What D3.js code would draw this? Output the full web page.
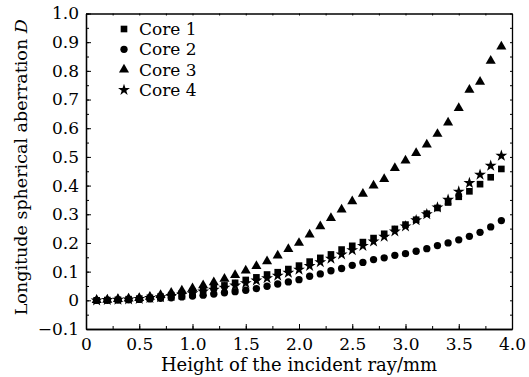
<!DOCTYPE html>
<meta charset="utf-8">
<style>
body { margin: 0; background: #fff; }
svg text { font-family: "DejaVu Serif", serif; fill: #000; }
.axis path, .axis line { stroke: #000; }
</style>
<div id="chart"></div>
<script src="https://d3js.org/d3.v7.min.js"></script>
<script>

var heights = [0.1,0.2,0.3,0.4,0.5,0.6,0.7,0.8,0.9,1.0,1.1,1.2,1.3,1.4,1.5,1.6,1.7,1.8,1.9,2.0,
               2.1,2.2,2.3,2.4,2.5,2.6,2.7,2.8,2.9,3.0,3.1,3.2,3.3,3.4,3.5,3.6,3.7,3.8,3.9];

var core1 = [0.000,0.001,0.002,0.004,0.006,0.009,0.013,0.018,0.024,0.030,0.037,0.044,0.052,0.061,0.071,0.080,0.090,0.098,0.109,0.121,
             0.135,0.148,0.160,0.177,0.190,0.203,0.217,0.232,0.249,0.264,0.281,0.302,0.322,0.341,0.361,0.380,0.405,0.429,0.458];
var core2 = [0.000,0.000,0.001,0.002,0.003,0.005,0.007,0.009,0.012,0.015,0.018,0.022,0.026,0.030,0.035,0.041,0.049,0.057,0.064,0.072,
             0.084,0.092,0.103,0.111,0.122,0.132,0.142,0.148,0.157,0.163,0.171,0.180,0.191,0.200,0.211,0.223,0.237,0.256,0.278];
var core3 = [0.001,0.002,0.004,0.006,0.008,0.012,0.018,0.026,0.034,0.042,0.052,0.063,0.075,0.088,0.104,0.119,0.136,0.156,0.179,0.200,
             0.229,0.258,0.287,0.316,0.345,0.371,0.400,0.423,0.461,0.487,0.513,0.543,0.580,0.620,0.670,0.734,0.762,0.835,0.885];
var core4 = [0.000,0.001,0.002,0.003,0.005,0.008,0.011,0.015,0.020,0.025,0.031,0.037,0.044,0.052,0.060,0.069,0.077,0.086,0.096,0.107,
             0.120,0.133,0.145,0.160,0.175,0.190,0.205,0.222,0.240,0.258,0.279,0.300,0.324,0.351,0.379,0.409,0.438,0.469,0.504];

var seriesNames = ["Core 1", "Core 2", "Core 3", "Core 4"];
var seriesValues = [core1, core2, core3, core4];

var xTicks = [0, 0.5, 1.0, 1.5, 2.0, 2.5, 3.0, 3.5, 4.0];
var yTicks = [-0.1, 0, 0.1, 0.2, 0.3, 0.4, 0.5, 0.6, 0.7, 0.8, 0.9, 1.0];

var width = 529, height = 377;
var margin = {top: 13.5, right: 17, bottom: 48, left: 86};

var svg = d3.select("#chart").append("svg")
    .attr("width", width)
    .attr("height", height);

var x = d3.scaleLinear().domain([0, 4]).range([margin.left, width - margin.right]);
var y = d3.scaleLinear().domain([-0.1, 1.0]).range([height - margin.bottom, margin.top]);

var symbols = [
  d3.symbol().type(d3.symbolSquare).size(44),
  d3.symbol().type(d3.symbolCircle).size(42),
  d3.symbol().type(d3.symbolTriangle).size(44),
  d3.symbol().type(d3.symbolStar).size(44)
];

function fmtX(d) { return d === 0 ? "0" : d3.format(".1f")(d); }
function fmtY(d) { return d === 0 ? "0" : d3.format(".1f")(d).replace("-", "\u2212"); }

var xMinor = d3.range(0, 4.001, 0.25);
var yMinor = d3.range(-0.1, 1.001, 0.05).map(function(d) { return Math.round(d * 100) / 100; });

// bottom axis
svg.append("g").attr("class", "axis")
    .attr("transform", "translate(0," + y(-0.1) + ")")
    .call(d3.axisBottom(x).tickValues(xMinor).tickFormat("").tickSize(-3).tickSizeOuter(0));
svg.append("g").attr("class", "axis")
    .attr("transform", "translate(0," + y(-0.1) + ")")
    .call(d3.axisBottom(x).tickValues(xTicks).tickFormat(fmtX).tickSize(-5).tickSizeOuter(0).tickPadding(9))
    .selectAll("text").style("font-size", "17px");

// left axis
svg.append("g").attr("class", "axis")
    .attr("transform", "translate(" + x(0) + ",0)")
    .call(d3.axisLeft(y).tickValues(yMinor).tickFormat("").tickSize(-3).tickSizeOuter(0));
svg.append("g").attr("class", "axis")
    .attr("transform", "translate(" + x(0) + ",0)")
    .call(d3.axisLeft(y).tickValues(yTicks).tickFormat(fmtY).tickSize(-5).tickSizeOuter(0).tickPadding(7))
    .selectAll("text").style("font-size", "17px");

// top and right frame
svg.append("g").attr("class", "axis")
    .attr("transform", "translate(0," + y(1.0) + ")")
    .call(d3.axisTop(x).tickValues(xMinor).tickFormat("").tickSize(-2).tickSizeOuter(0));
svg.append("g").attr("class", "axis")
    .attr("transform", "translate(" + x(4) + ",0)")
    .call(d3.axisRight(y).tickValues(yMinor).tickFormat("").tickSize(-2).tickSizeOuter(0));

svg.selectAll(".axis path").attr("stroke-width", 1.3);

// markers
seriesValues.forEach(function(vals, i) {
  svg.append("g")
    .selectAll("path")
    .data(vals)
    .enter().append("path")
      .attr("d", symbols[i])
      .attr("fill", "#000")
      .attr("transform", function(d, j) { return "translate(" + x(heights[j]) + "," + y(d) + ")"; });
});

// legend
var legend = svg.append("g").selectAll("g")
    .data(seriesNames)
    .enter().append("g")
      .attr("transform", function(d, i) { return "translate(124," + (29 + i * 20.3) + ")"; });
legend.append("path")
    .attr("d", function(d, i) { return symbols[i](); })
    .attr("fill", "#000");
legend.append("text")
    .attr("x", 15)
    .attr("dy", "0.36em")
    .style("font-size", "17px")
    .text(function(d) { return d; });

// axis titles
svg.append("text")
    .attr("x", (x(0) + x(4)) / 2)
    .attr("y", 371)
    .attr("text-anchor", "middle")
    .style("font-size", "18px")
    .text("Height of the incident ray/mm");

var yTitle = svg.append("text")
    .attr("transform", "translate(27," + ((y(-0.1) + y(1.0)) / 2 - 4) + ") rotate(-90)")
    .attr("text-anchor", "middle")
    .style("font-size", "17.5px");
yTitle.append("tspan").text("Longitude spherical aberration ");
yTitle.append("tspan").style("font-style", "italic").text("D");

</script>
